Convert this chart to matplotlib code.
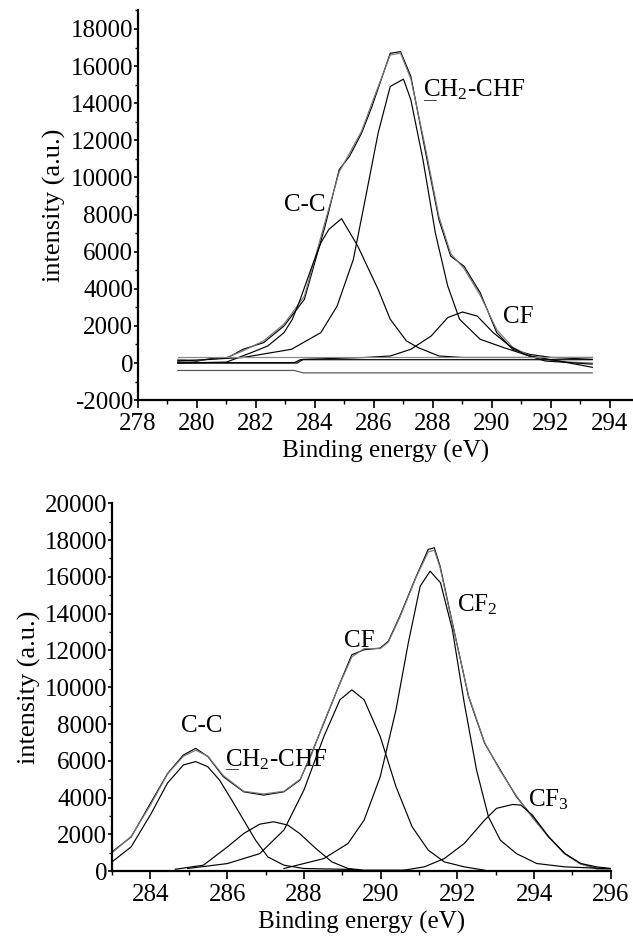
import matplotlib as mpl
import matplotlib.pyplot as plt
from matplotlib.ticker import MultipleLocator

mpl.use('Agg')
plt.rcParams['font.family'] = ['Liberation Serif', 'DejaVu Serif']
plt.rcParams['mathtext.fontset'] = 'custom'
plt.rcParams['mathtext.rm'] = 'Liberation Serif'
plt.rcParams['mathtext.it'] = 'Liberation Serif:italic'
plt.rcParams['axes.unicode_minus'] = False

# ---- top panel: C1s spectrum, sample 1 ----
top_env_x = [279.35, 280.0, 280.5, 281.0, 281.56, 282.26, 282.95, 283.64, 284.34, 284.82,
             285.17, 285.58, 285.93, 286.55, 286.9, 287.25, 287.73, 288.2, 288.6, 289.05,
             289.6, 290.16, 290.7, 291.27, 292.0, 292.7, 293.4]
top_env_y = [150, 100, 250, 250, 740, 1100, 2000, 3430, 7370, 10420,
             11140, 12390, 13820, 16690, 16780, 15440, 11500, 7730, 5760, 5220,
             3790, 1640, 740, 470, 300, 250, 200]
top_fit_y = [200, 150, 200, 300, 650, 1200, 2100, 3600, 7600, 10300,
             11300, 12500, 14000, 16600, 16700, 15300, 11700, 7900, 5900, 5100,
             3650, 1800, 850, 400, 150, 50, 0]

top_cc_x = [279.35, 281.0, 281.84, 282.4, 282.95, 283.23, 283.5, 283.9, 284.2, 284.47,
            284.9, 285.45, 286.14, 286.55, 287.1, 287.5, 288.2, 289.0, 290.5, 293.4]
top_cc_y = [0, 50, 560, 920, 1640, 2350, 3430, 5220, 6480, 7200,
            7780, 6300, 3970, 2360, 1190, 830, 380, 300, 300, 300]

top_ch2_x = [279.35, 281.56, 283.2, 284.2, 284.75, 285.3, 285.7, 286.14, 286.55, 287.0,
             287.25, 287.66, 288.08, 288.5, 288.9, 289.6, 290.4, 291.27, 292.3, 293.4]
top_ch2_y = [100, 300, 740, 1640, 3070, 5580, 8800, 12390, 14900, 15300,
             14180, 10960, 7010, 4150, 2360, 1280, 830, 380, 100, -230]

top_cf_x = [279.35, 283.4, 283.6, 285.7, 286.55, 287.25, 287.94, 288.5, 289.0, 289.5,
            290.04, 290.6, 291.1, 291.8, 293.4]
top_cf_y = [0, 0, 200, 300, 380, 740, 1460, 2450, 2750, 2530,
            1640, 920, 470, 110, -60]

top_base1_x = [279.35, 293.4]
top_base1_y = [330, 330]
top_base2_x = [279.35, 283.3, 283.5, 293.4]
top_base2_y = [20, 20, 180, 180]
top_base3_x = [279.35, 283.3, 283.6, 293.4]
top_base3_y = [-400, -400, -530, -530]

# ---- bottom panel: C1s spectrum, sample 2 ----
bot_env_x = [283.0, 283.5, 284.0, 284.45, 284.86, 285.18, 285.5, 285.9, 286.43, 286.95,
             287.48, 287.9, 288.2, 288.52, 288.94, 289.25, 289.57, 289.99, 290.2, 290.5,
             290.93, 291.24, 291.4, 291.55, 291.87, 292.29, 292.71, 293.12, 293.54, 293.96,
             294.38, 294.8, 295.2, 295.63, 296.0]
bot_env_y = [1050, 1870, 3690, 5320, 6320, 6680, 6230, 5140, 4320, 4140,
             4320, 4960, 6410, 8050, 10230, 11770, 12040, 12130, 12500, 13860,
             16040, 17490, 17580, 16580, 13500, 9500, 6960, 5500, 4050, 2960,
             1870, 960, 420, 150, 150]
bot_fit_y = [1000, 1900, 3600, 5300, 6250, 6580, 6250, 5200, 4350, 4200,
             4350, 5000, 6350, 8100, 10200, 11650, 12100, 12100, 12450, 13800,
             16000, 17350, 17450, 16500, 13450, 9550, 7000, 5450, 4100, 2900,
             1850, 950, 400, 120, 100]

bot_cc_x = [283.0, 283.5, 284.02, 284.44, 284.86, 285.18, 285.49, 285.8, 286.12, 286.43,
            286.74, 287.06, 287.48, 288.0, 289.25, 289.57]
bot_cc_y = [510, 1330, 3140, 4780, 5780, 5960, 5690, 4960, 3870, 2780,
            1690, 780, 330, 150, 100, 0]

bot_ch2_x = [284.65, 285.38, 286.01, 286.43, 286.85, 287.21, 287.58, 287.89, 288.31, 288.73,
             289.15, 289.57, 290.61]
bot_ch2_y = [110, 330, 1330, 2050, 2560, 2690, 2510, 2050, 1240, 510,
             150, 60, 60]

bot_cf_x = [284.97, 286.01, 286.85, 287.48, 288.0, 288.52, 288.94, 289.25, 289.57, 289.99,
            290.4, 290.82, 291.24, 291.66, 292.18, 292.71]
bot_cf_y = [150, 420, 960, 2240, 4410, 7320, 9320, 9860, 9320, 7320,
            4600, 2420, 1150, 510, 240, 60]

bot_cf2_x = [287.48, 288.52, 289.15, 289.57, 289.99, 290.4, 290.72, 291.03, 291.29, 291.56,
             291.87, 292.18, 292.5, 292.81, 293.12, 293.54, 294.07, 294.8, 295.84]
bot_cf2_y = [150, 690, 1510, 2780, 5140, 8770, 12400, 15490, 16310, 15680,
             13130, 9140, 5500, 2960, 1690, 960, 420, 240, 150]

bot_cf3_x = [290.61, 291.14, 291.66, 292.18, 292.71, 293.02, 293.44, 293.65, 293.96, 294.38,
             294.8, 295.22, 295.63, 296.0]
bot_cf3_y = [60, 240, 690, 1510, 2780, 3420, 3630, 3600, 3050, 1870,
             960, 420, 240, 150]

bot_base_x = [284.7, 296.0]
bot_base_y = [40, 40]

FS = 18
LW = 0.85


def style_axes(ax):
    for s in ['top', 'right']:
        ax.spines[s].set_visible(False)
    for s in ['left', 'bottom']:
        ax.spines[s].set_linewidth(1.6)
    ax.xaxis.set_major_locator(MultipleLocator(2))
    ax.xaxis.set_minor_locator(MultipleLocator(1))
    ax.yaxis.set_major_locator(MultipleLocator(2000))
    ax.yaxis.set_minor_locator(MultipleLocator(1000))
    ax.tick_params(axis='x', which='major', direction='out', length=6, width=1.2,
                   labelsize=FS, pad=3)
    ax.tick_params(axis='x', which='minor', direction='out', length=3, width=1.0)
    ax.tick_params(axis='y', which='major', direction='out', length=3, width=1.2,
                   labelsize=FS, pad=0.5)
    ax.tick_params(axis='y', which='minor', direction='out', length=2, width=1.0)
    ax.set_xlabel('Binding energy (eV)', fontsize=FS, labelpad=4)
    ax.set_ylabel('intensity (a.u.)', fontsize=19, labelpad=3)


def ch2_label(ax, x, y):
    # "CH2-CHF" with the first C underlined
    ax.text(x, y, r'CH$_2$-CHF', fontsize=FS, ha='left', va='baseline')
    ax.text(x, y, '_', fontsize=FS, ha='left', va='baseline', color='#444444')


fig = plt.figure(figsize=(6.33, 9.46), dpi=100)

ax1 = fig.add_axes([0.218, 0.577, 0.782, 0.412])
ax1.plot(top_env_x, top_env_y, color='black', lw=LW)
ax1.plot(top_env_x, top_fit_y, color='#777777', lw=LW)
ax1.plot(top_cc_x, top_cc_y, color='black', lw=LW)
ax1.plot(top_ch2_x, top_ch2_y, color='black', lw=LW)
ax1.plot(top_cf_x, top_cf_y, color='black', lw=LW)
ax1.plot(top_base1_x, top_base1_y, color='#888888', lw=LW)
ax1.plot(top_base2_x, top_base2_y, color='black', lw=LW)
ax1.plot(top_base3_x, top_base3_y, color='#555555', lw=LW)
ax1.set_xlim(278, 294.78)
ax1.set_ylim(-2000, 19000)
style_axes(ax1)
ax1.text(283.65, 8500, 'C-C', fontsize=FS, ha='center', va='center')
ch2_label(ax1, 287.65, 14350)
ax1.text(290.9, 2500, 'CF', fontsize=FS, ha='center', va='center')

ax2 = fig.add_axes([0.177, 0.079, 0.788, 0.389])
ax2.plot(bot_env_x, bot_env_y, color='black', lw=LW)
ax2.plot(bot_env_x, bot_fit_y, color='#777777', lw=LW)
ax2.plot(bot_cc_x, bot_cc_y, color='black', lw=LW)
ax2.plot(bot_ch2_x, bot_ch2_y, color='black', lw=LW)
ax2.plot(bot_cf_x, bot_cf_y, color='black', lw=LW)
ax2.plot(bot_cf2_x, bot_cf2_y, color='black', lw=LW)
ax2.plot(bot_cf3_x, bot_cf3_y, color='black', lw=LW)
ax2.plot(bot_base_x, bot_base_y, color='#888888', lw=LW)
ax2.set_xlim(283, 296)
ax2.set_ylim(0, 20000)
style_axes(ax2)
ax2.text(285.35, 7900, 'C-C', fontsize=FS, ha='center', va='center')
ch2_label(ax2, 285.95, 5700)
ax2.text(289.05, 12500, 'CF', fontsize=FS, ha='left', va='center')
ax2.text(292.0, 14500, r'CF$_2$', fontsize=FS, ha='left', va='center')
ax2.text(293.85, 3900, r'CF$_3$', fontsize=FS, ha='left', va='center')

fig.savefig('out.png', dpi=100)
